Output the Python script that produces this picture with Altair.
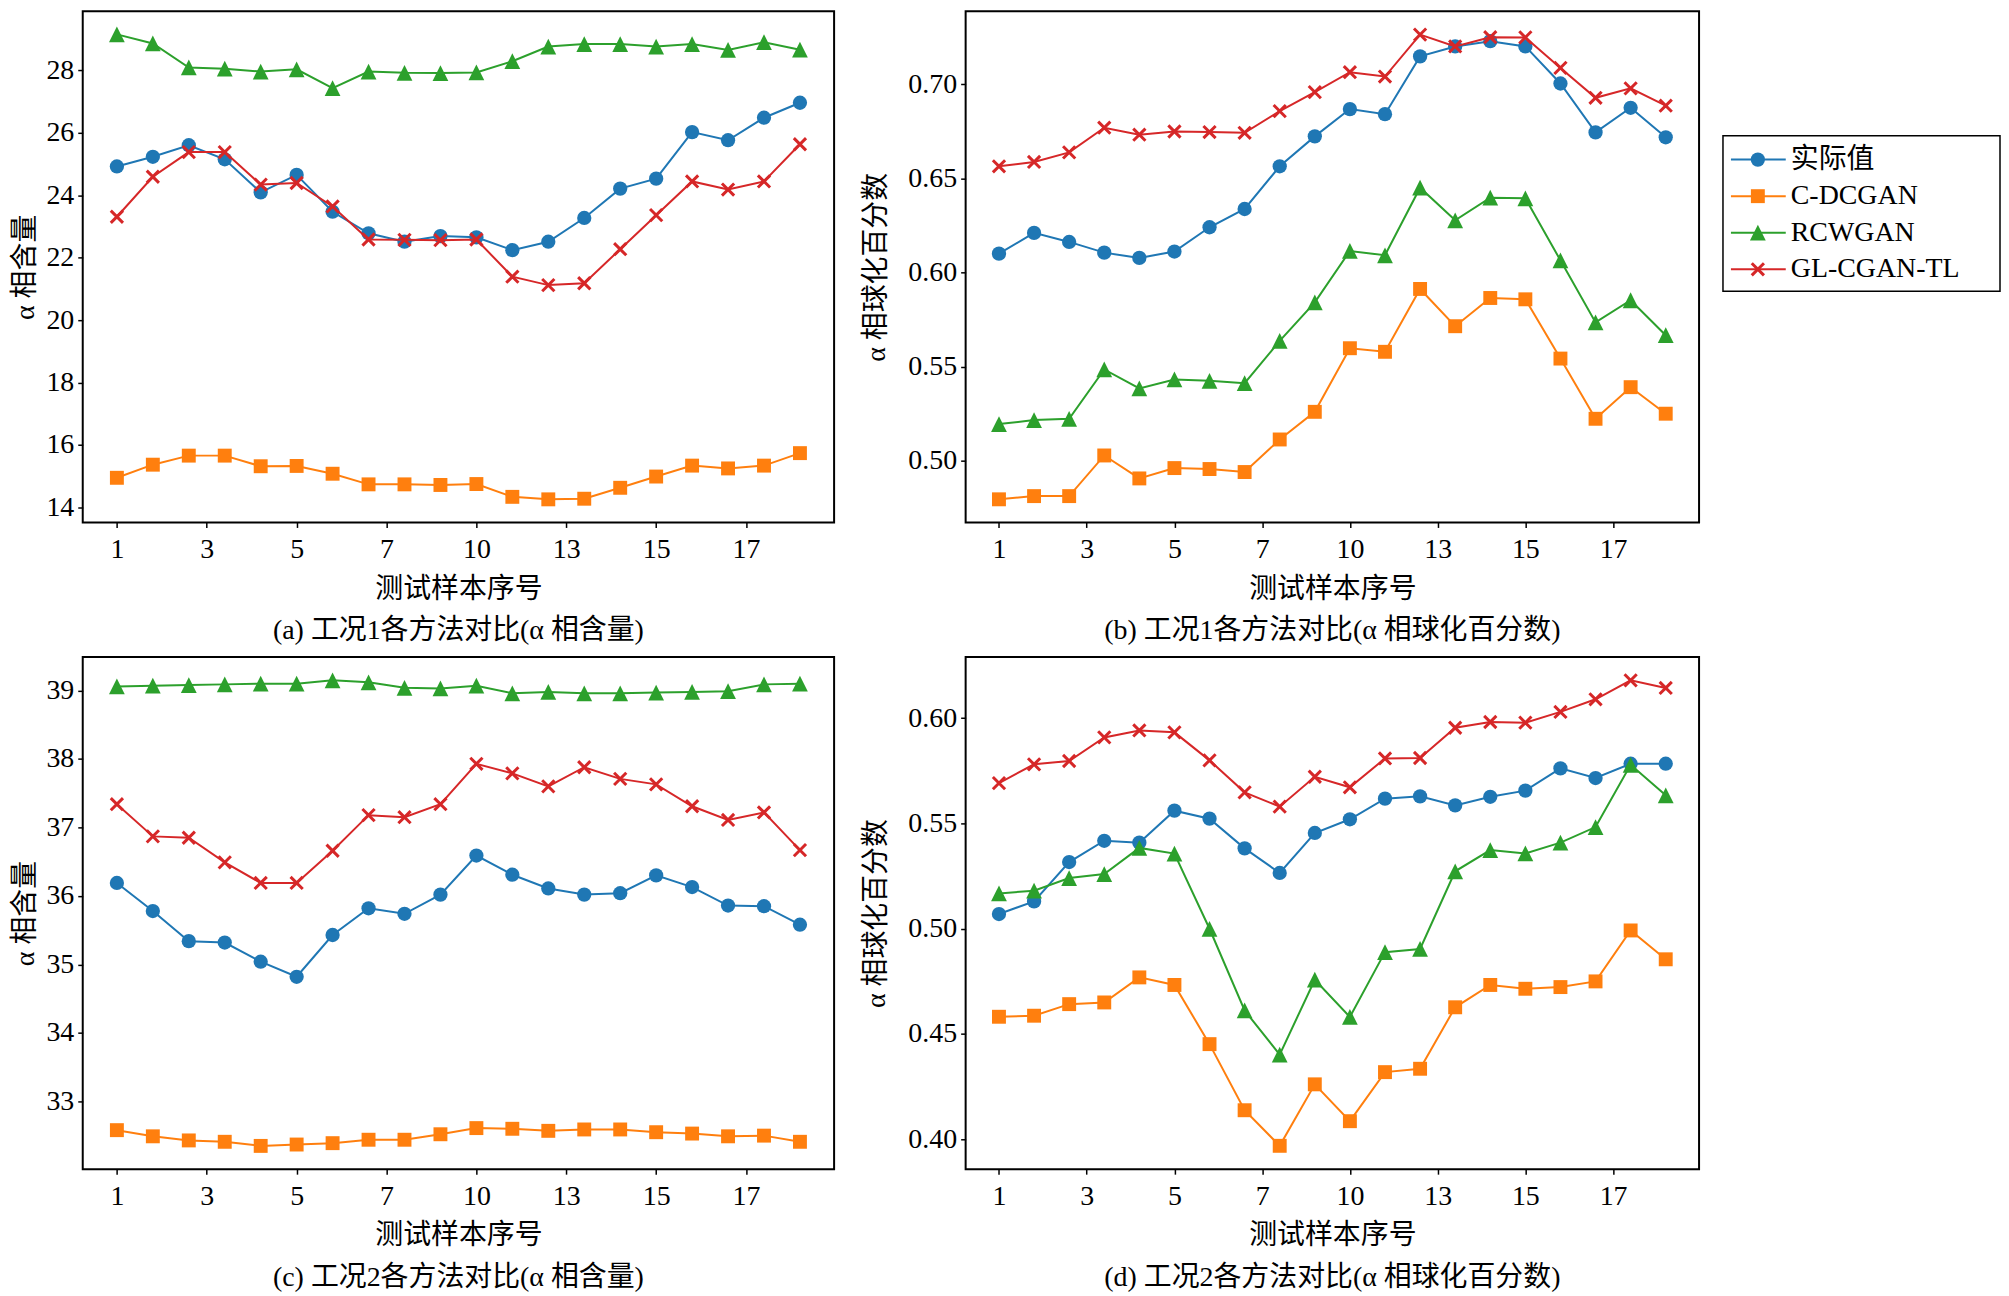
import altair as alt
import pandas as pd

# ---------------- data ----------------
samples = list(range(1, 21))
x_ticks = [1, 3.5, 6, 8.5, 11, 13.5, 16, 18.5]
x_tick_labels = ["1", "3", "5", "7", "10", "13", "15", "17"]
x_domain = [0.05, 20.95]

series_names = ["实际值", "C-DCGAN", "RCWGAN", "GL-CGAN-TL"]
series_colors = ["#1f77b4", "#ff7f0e", "#2ca02c", "#d62728"]

# (a) 工况1 α相含量
a_actual = [24.92, 25.23, 25.60, 25.15, 24.09, 24.65, 23.47, 22.78, 22.51, 22.69,
            22.65, 22.24, 22.51, 23.27, 24.21, 24.53, 26.02, 25.76, 26.48, 26.96]
a_cdcgan = [14.95, 15.37, 15.66, 15.66, 15.32, 15.33, 15.08, 14.74, 14.74, 14.72,
            14.75, 14.34, 14.26, 14.28, 14.63, 14.99, 15.34, 15.25, 15.34, 15.74]
a_rcwgan = [29.15, 28.86, 28.09, 28.05, 27.96, 28.03, 27.43, 27.96, 27.92, 27.91,
            27.93, 28.29, 28.76, 28.84, 28.84, 28.76, 28.84, 28.65, 28.90, 28.66]
a_glcgan = [23.31, 24.59, 25.38, 25.38, 24.34, 24.39, 23.64, 22.58, 22.57, 22.56,
            22.58, 21.39, 21.12, 21.18, 22.27, 23.36, 24.44, 24.18, 24.44, 25.63]

# (b) 工况1 α相球化百分数
b_actual = [0.6101, 0.6211, 0.6163, 0.6106, 0.6078, 0.6112, 0.6241, 0.6338, 0.6565, 0.6724,
            0.6869, 0.6842, 0.7149, 0.7202, 0.7230, 0.7202, 0.7005, 0.6745, 0.6876, 0.6719]
b_cdcgan = [0.4795, 0.4812, 0.4812, 0.5028, 0.4906, 0.4961, 0.4956, 0.4940, 0.5113, 0.5260,
            0.5598, 0.5579, 0.5913, 0.5715, 0.5865, 0.5858, 0.5543, 0.5223, 0.5391, 0.5250]
b_rcwgan = [0.5195, 0.5216, 0.5223, 0.5485, 0.5384, 0.5432, 0.5425, 0.5412, 0.5637, 0.5842,
            0.6115, 0.6092, 0.6451, 0.6278, 0.6398, 0.6395, 0.6065, 0.5735, 0.5853, 0.5667]
b_glcgan = [0.6565, 0.6588, 0.6639, 0.6770, 0.6733, 0.6750, 0.6747, 0.6743, 0.6858, 0.6959,
            0.7065, 0.7042, 0.7265, 0.7202, 0.7251, 0.7250, 0.7088, 0.6929, 0.6979, 0.6887]

# (c) 工况2 α相含量
c_actual = [36.19, 35.78, 35.34, 35.32, 35.04, 34.82, 35.43, 35.82, 35.74, 36.02,
            36.59, 36.31, 36.11, 36.02, 36.04, 36.30, 36.13, 35.86, 35.85, 35.58]
c_cdcgan = [32.58, 32.49, 32.43, 32.41, 32.35, 32.37, 32.39, 32.44, 32.44, 32.52,
            32.61, 32.60, 32.57, 32.59, 32.59, 32.55, 32.53, 32.49, 32.50, 32.41]
c_rcwgan = [39.06, 39.07, 39.08, 39.09, 39.10, 39.10, 39.15, 39.12, 39.04, 39.03,
            39.07, 38.96, 38.98, 38.96, 38.96, 38.97, 38.98, 38.99, 39.09, 39.10]
c_glcgan = [37.34, 36.87, 36.85, 36.49, 36.19, 36.19, 36.66, 37.18, 37.15, 37.34,
            37.93, 37.79, 37.60, 37.88, 37.71, 37.63, 37.31, 37.11, 37.22, 36.67]

# (d) 工况2 α相球化百分数
d_actual = [0.5069, 0.5129, 0.5316, 0.5417, 0.5408, 0.5560, 0.5522, 0.5381, 0.5264, 0.5454,
            0.5519, 0.5617, 0.5628, 0.5585, 0.5626, 0.5655, 0.5761, 0.5715, 0.5783, 0.5783]
d_cdcgan = [0.4581, 0.4586, 0.4641, 0.4649, 0.4768, 0.4732, 0.4451, 0.4137, 0.3968, 0.4260,
            0.4085, 0.4318, 0.4334, 0.4626, 0.4732, 0.4714, 0.4722, 0.4749, 0.4991, 0.4854]
d_rcwgan = [0.5167, 0.5180, 0.5240, 0.5259, 0.5383, 0.5356, 0.4999, 0.4611, 0.4401, 0.4757,
            0.4580, 0.4888, 0.4903, 0.5272, 0.5373, 0.5357, 0.5408, 0.5482, 0.5778, 0.5633]
d_glcgan = [0.5691, 0.5780, 0.5796, 0.5908, 0.5941, 0.5932, 0.5799, 0.5647, 0.5579, 0.5721,
            0.5671, 0.5808, 0.5810, 0.5954, 0.5981, 0.5978, 0.6029, 0.6089, 0.6179, 0.6143]

a_yticks = [14, 16, 18, 20, 22, 24, 26, 28]
b_yticks = [0.50, 0.55, 0.60, 0.65, 0.70]
c_yticks = [33, 34, 35, 36, 37, 38, 39]
d_yticks = [0.40, 0.45, 0.50, 0.55, 0.60]

a_ydomain = [13.52, 29.89]
b_ydomain = [0.4672, 0.7389]
c_ydomain = [32.01, 39.49]
d_ydomain = [0.3857, 0.6290]

x_title = "测试样本序号"
y_title_content = "α 相含量"
y_title_sphero = "α 相球化百分数"
captions = [
    "(a) 工况1各方法对比(α 相含量)",
    "(b) 工况1各方法对比(α 相球化百分数)",
    "(c) 工况2各方法对比(α 相含量)",
    "(d) 工况2各方法对比(α 相球化百分数)",
]

# ---------------- styles ----------------
FONT = "Liberation Serif, Noto Sans CJK SC"
MARKS = [
    dict(shape="circle", filled=True, size=205),
    dict(shape="square", filled=True, size=195),
    dict(shape="M0,-1L-1,1L1,1Z", filled=True, size=250),
    dict(shape="M-1,-1L1,1M-1,1L1,-1", filled=False, size=150, strokeWidth=3),
]

x_label_expr = ""
for p, l in zip(x_ticks, x_tick_labels):
    x_label_expr += f"datum.value == {p} ? '{l}' : "
x_label_expr += "''"


def panel(vals, ydom, yticks, yfmt, ytitle, caption, w, h, yext, ytpad):
    df = pd.DataFrame({
        "sample": samples * len(series_names),
        "value": [v for s in vals for v in s],
        "series": [n for n in series_names for _ in samples],
    })
    x = alt.X("sample:Q",
              scale=alt.Scale(domain=x_domain, nice=False, zero=False),
              axis=alt.Axis(values=x_ticks, labelExpr=x_label_expr, title=x_title,
                            labelPadding=8, titlePadding=12))
    y = alt.Y("value:Q",
              scale=alt.Scale(domain=ydom, nice=False, zero=False),
              axis=alt.Axis(values=yticks, format=yfmt, title=ytitle, labelPadding=4,
                            minExtent=yext, maxExtent=yext, titlePadding=ytpad))
    layers = []
    for i, name in enumerate(series_names):
        sub = alt.Chart().transform_filter(alt.datum.series == name)
        layers.append(sub.mark_line(color=series_colors[i], strokeWidth=2).encode(x=x, y=y))
        layers.append(sub.mark_point(color=series_colors[i], opacity=1, **MARKS[i]).encode(x=x, y=y))
    return alt.layer(*layers, data=df).properties(
        width=w, height=h,
        title=alt.TitleParams(caption, orient="bottom", frame="group", anchor="middle", offset=14),
    )


pa = panel([a_actual, a_cdcgan, a_rcwgan, a_glcgan], a_ydomain, a_yticks, "d",
           y_title_content, captions[0], 754, 513, 40, 3)
pb = panel([b_actual, b_cdcgan, b_rcwgan, b_glcgan], b_ydomain, b_yticks, ".2f",
           y_title_sphero, captions[1], 736, 513, 67, 8)
pc = panel([c_actual, c_cdcgan, c_rcwgan, c_glcgan], c_ydomain, c_yticks, "d",
           y_title_content, captions[2], 754, 514, 40, 3)
pd_ = panel([d_actual, d_cdcgan, d_rcwgan, d_glcgan], d_ydomain, d_yticks, ".2f",
            y_title_sphero, captions[3], 736, 514, 67, 8)

# ---------------- legend ----------------
leg_df = pd.DataFrame({"series": series_names, "row": list(range(len(series_names)))})
yl = alt.Y("row:Q", scale=alt.Scale(domain=[-0.65, 3.6], reverse=True, nice=False, zero=False), axis=None)
leg_layers = []
for i, name in enumerate(series_names):
    sub = alt.Chart().transform_filter(alt.datum.series == name)
    leg_layers.append(sub.mark_rule(color=series_colors[i], strokeWidth=2)
                      .encode(x=alt.value(8), x2=alt.value(63), y=yl))
    leg_layers.append(sub.mark_point(color=series_colors[i], opacity=1, **MARKS[i])
                      .encode(x=alt.value(35), y=yl))
leg_layers.append(alt.Chart().mark_text(align="left", baseline="middle", font=FONT,
                                        fontSize=28, color="black")
                  .encode(x=alt.value(68), y=yl, text="series:N"))
legend_box = alt.layer(*leg_layers, data=leg_df).properties(
    width=278, height=156,
    view=alt.ViewBackground(stroke="black", strokeWidth=1.5),
)
# empty block that pushes the legend box down beside panel (b)
spacer = alt.Chart(leg_df).mark_point(opacity=0).encode(
    x=alt.value(10), y=alt.value(10)
).properties(width=278, height=124, view=alt.ViewBackground(strokeWidth=0, strokeOpacity=0))
legend = alt.vconcat(spacer, legend_box, spacing=0)

top = alt.hconcat(alt.hconcat(pa, pb, spacing=27).resolve_scale(x="independent", y="independent"),
                  legend, spacing=22).resolve_scale(x="independent", y="independent")
bottom = alt.hconcat(pc, pd_, spacing=27).resolve_scale(x="independent", y="independent")

chart = (
    alt.vconcat(top, bottom, spacing=10)
    .resolve_scale(x="independent", y="independent")
    .properties(padding={"left": 3, "top": 0, "right": 0, "bottom": 0}, background="white")
    .configure_view(stroke="black", strokeWidth=2)
    .configure_axis(
        labelFont="Liberation Serif", labelFontSize=28, labelColor="black",
        titleFont=FONT, titleFontSize=28, titleFontWeight="normal", titleColor="black",
        tickColor="black", tickWidth=1.5, tickSize=5, domain=False, grid=False,
    )
    .configure_title(font=FONT, fontSize=28, fontWeight="normal", color="black")
)

chart.save("out.html", embed_options={"renderer": "svg", "actions": False})
